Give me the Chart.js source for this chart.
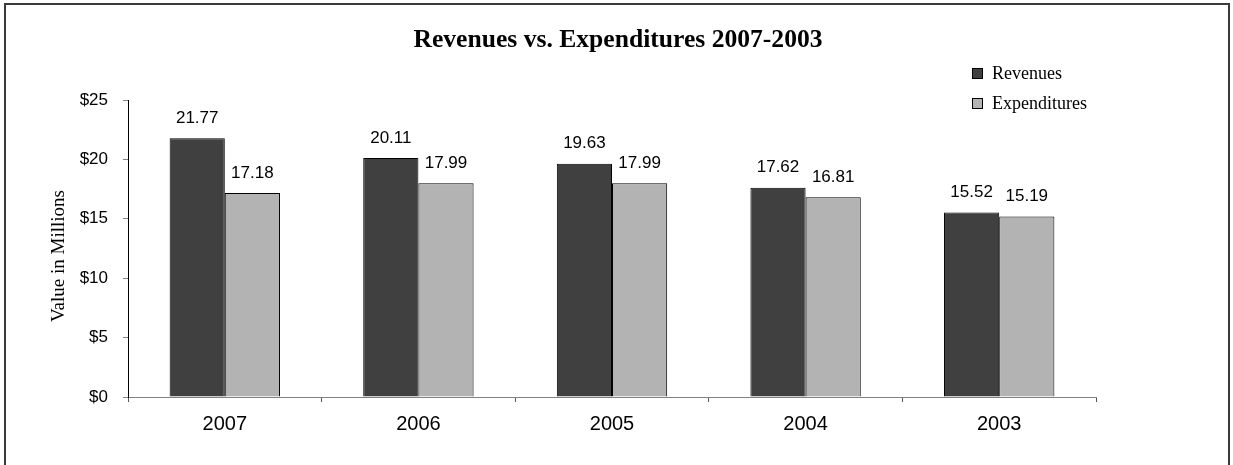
<!DOCTYPE html>
<html>
<head>
<meta charset="utf-8">
<script src="https://cdn.jsdelivr.net/npm/chart.js@4"></script>
<style>
  html, body { margin: 0; padding: 0; background: #fff; }
  #wrap { width: 1233px; height: 465px; }
</style>
</head>
<body>
<div id="wrap"><canvas id="c" width="1233" height="465"></canvas></div>
<script>
// données
const years        = ['2007', '2006', '2005', '2004', '2003'];
const revenues     = [21.77, 20.11, 19.63, 17.62, 15.52];
const expenditures = [17.18, 17.99, 17.99, 16.81, 15.19];
const yTicks       = [0, 5, 10, 15, 20, 25];

const SERIF = '"Liberation Serif", "Times New Roman", serif';
const SANS  = '"Liberation Sans", Arial, sans-serif';

// cadre, titre, légende, titre d'axe
const decor = {
  id: 'decor',
  beforeDraw(chart) {
    const ctx = chart.ctx;
    ctx.save();
    ctx.fillStyle = '#fff';
    ctx.fillRect(0, 0, chart.width, chart.height);
    ctx.strokeStyle = '#3a3a3a';
    ctx.lineWidth = 2;
    ctx.strokeRect(5, 4, 1224, 520);
    ctx.restore();
  },
  afterDraw(chart) {
    const ctx = chart.ctx;
    ctx.save();
    ctx.fillStyle = '#000';
    ctx.font = 'bold 25.6px ' + SERIF;
    ctx.textAlign = 'center';
    ctx.textBaseline = 'middle';
    ctx.fillText('Revenues vs. Expenditures 2007-2003', 618, 40);

    // légende
    ctx.font = '18px ' + SERIF;
    ctx.textAlign = 'left';
    chart.data.datasets.forEach((ds, i) => {
      const y = 73 + i * 30;
      ctx.fillStyle = ds.backgroundColor;
      ctx.fillRect(972, y - 5, 11, 11);
      ctx.strokeStyle = '#000';
      ctx.lineWidth = 1;
      ctx.strokeRect(972.5, y - 4.5, 10, 10);
      ctx.fillStyle = '#000';
      ctx.fillText(ds.label, 992, y + 1);
    });

    // titre axe Y (coupé en haut comme sur l'original)
    ctx.beginPath();
    ctx.rect(0, 183, 120, 200);
    ctx.clip();
    ctx.translate(59, 322);
    ctx.rotate(-Math.PI / 2);
    ctx.font = '19px ' + SERIF;
    ctx.textAlign = 'left';
    ctx.fillText('Value in Millions', 0, 0);
    ctx.restore();
  },
  afterDatasetsDraw(chart) {
    const ctx = chart.ctx;
    ctx.save();
    ctx.fillStyle = '#000';
    ctx.font = '17px ' + SANS;
    ctx.textAlign = 'center';
    ctx.textBaseline = 'middle';
    chart.data.datasets.forEach((ds, i) => {
      chart.getDatasetMeta(i).data.forEach((bar, j) => {
        ctx.fillText(ds.data[j].toFixed(2), bar.x, bar.y - 20);
      });
    });
    ctx.restore();
  },
};

new Chart(document.getElementById('c'), {
  type: 'bar',
  data: {
    labels: years,
    datasets: [
      { label: 'Revenues',     data: revenues,     backgroundColor: '#404040', borderColor: '#000', borderWidth: 1 },
      { label: 'Expenditures', data: expenditures, backgroundColor: '#b3b3b3', borderColor: '#000', borderWidth: 1 },
    ],
  },
  options: {
    animation: false,
    responsive: false,
    devicePixelRatio: 1,
    layout: { padding: { left: 5, top: 100, right: 137, bottom: 0 } },
    datasets: { bar: { categoryPercentage: 0.57, barPercentage: 1 } },
    plugins: { legend: { display: false }, title: { display: false }, tooltip: { enabled: false } },
    scales: {
      x: {
        afterFit: s => { s.height = 68; },
        grid: { offset: true, drawOnChartArea: false, tickLength: 5, color: '#555' },
        border: { color: '#808080', width: 1 },
        ticks: { color: '#000', font: { family: SANS, size: 20 }, padding: 10 },
      },
      y: {
        min: 0, max: 25,
        afterFit: s => { s.width = 123; },
        afterBuildTicks: s => { s.ticks = yTicks.map(v => ({ value: v })); },
        grid: { drawOnChartArea: false, tickLength: 5, color: '#808080' },
        border: { color: '#000', width: 1 },
        ticks: { color: '#000', font: { family: SANS, size: 17 }, padding: 15, callback: v => '$' + v },
      },
    },
  },
  plugins: [decor],
});
</script>
</body>
</html>
